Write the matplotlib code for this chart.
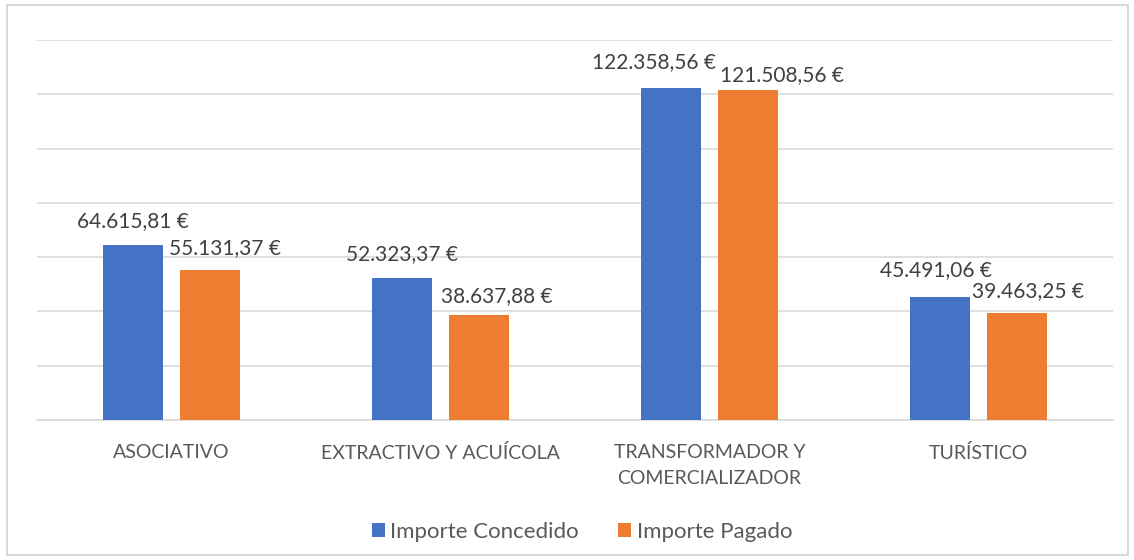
import numpy as np
import matplotlib.pyplot as plt
from matplotlib.patches import Rectangle

categories = ["ASOCIATIVO", "EXTRACTIVO Y ACUÍCOLA", "TRANSFORMADOR Y\nCOMERCIALIZADOR", "TURÍSTICO"]
concedido = [64615.81, 52323.37, 122358.56, 45491.06]
pagado = [55131.37, 38637.88, 121508.56, 39463.25]
series_names = ["Importe Concedido", "Importe Pagado"]

# label nudges in pixels (dx, dy above bar top) - mimics Excel's placement
nudge_conc = [(0, 18), (0, 18), (-17, 20), (-4, 20)]
nudge_pag = [(15, 16), (18, 13), (34, 9), (11, 16)]


def euro(v):
    s = f"{v:,.2f}"
    s = s.replace(",", "X").replace(".", ",").replace("X", ".")
    return s + " €"


plt.rcParams['font.family'] = ['Lato', 'DejaVu Sans']
txt = "#595959"
fs = 15

fig = plt.figure(figsize=(11.34, 5.6), dpi=100)
fig.patches.append(Rectangle((7 / 1134, 5 / 560), 1121 / 1134, 550 / 560,
                             transform=fig.transFigure, fill=False,
                             edgecolor="#D9D9D9", linewidth=1.5))
ax = fig.add_axes([37 / 1134, 1 - 420 / 560, 1076 / 1134, 380 / 560])

x = np.arange(len(categories))
w = 0.223
off = 0.143
b1 = ax.bar(x - off, concedido, w, color="#4472C4", label=series_names[0], zorder=3)
b2 = ax.bar(x + off, pagado, w, color="#ED7D31", label=series_names[1], zorder=3)

for bars, vals, nud in ((b1, concedido, nudge_conc), (b2, pagado, nudge_pag)):
    for b, v, (dx, dy) in zip(bars, vals, nud):
        ax.annotate(euro(v), (b.get_x() + b.get_width() / 2, v),
                    xytext=(dx, dy), textcoords="offset pixels",
                    ha="center", va="baseline", fontsize=fs, color="#404040")

ax.set_xlim(-0.5, len(categories) - 0.5)
ax.set_ylim(0, 140000)
ax.set_yticks(np.arange(0, 140001, 20000))
ax.yaxis.grid(True, color="#D9D9D9", linewidth=1.2, zorder=0)
ax.tick_params(axis="y", left=False, labelleft=False)
ax.tick_params(axis="x", bottom=False, labelsize=14, labelcolor=txt, pad=14)
ax.set_xticks(x)
ax.set_xticklabels(categories, linespacing=1.65)
for s in ("top", "right", "left"):
    ax.spines[s].set_visible(False)
ax.spines["bottom"].set_color("#D9D9D9")
ax.spines["bottom"].set_linewidth(1.2)

leg = fig.legend(loc="center", bbox_to_anchor=(582 / 1134, 1 - 532 / 560), ncol=2,
                 frameon=False, fontsize=16, handlelength=0.6, handleheight=0.6,
                 handletextpad=0.25, columnspacing=1.75)
for t in leg.get_texts():
    t.set_color(txt)

fig.savefig("out.png", dpi=100)
